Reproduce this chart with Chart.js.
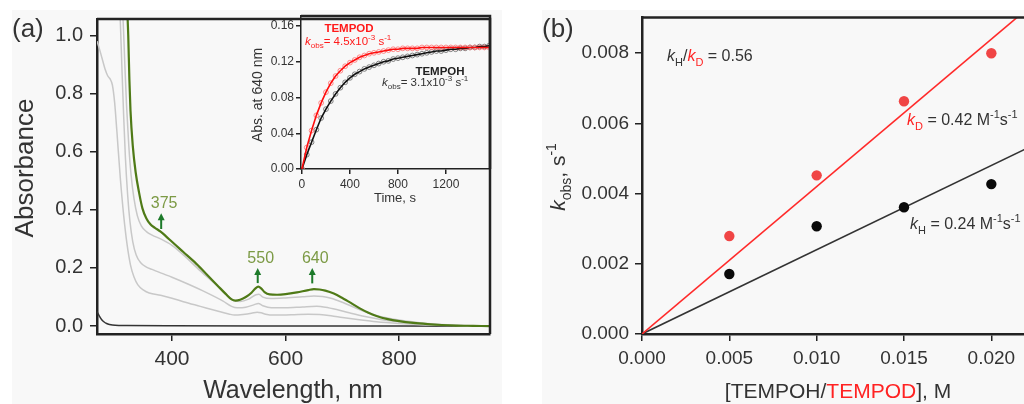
<!DOCTYPE html>
<html>
<head>
<meta charset="utf-8">
<script src="https://cdn.jsdelivr.net/npm/chart.js@4.4.0/dist/chart.umd.min.js"></script>
<style>
  html, body { margin: 0; padding: 0; width: 1024px; height: 404px; overflow: hidden; background: #fff; }
  .bg { position: absolute; background: #f8f8f8; }
  #bgA { left: 12px; top: 10px; width: 490px; height: 394px; }
  #bgB { left: 542px; top: 10px; width: 482px; height: 394px; }
  canvas { position: absolute; }
  #chartA { left: 0; top: 0; }
  #chartIn { left: 240px; top: 0; }
  #chartB { left: 520px; top: 0; }
</style>
</head>
<body>
<div class="bg" id="bgA"></div>
<div class="bg" id="bgB"></div>
<canvas id="chartA" width="510" height="404"></canvas>
<canvas id="chartIn" width="260" height="215"></canvas>
<canvas id="chartB" width="540" height="404"></canvas>

<script>
// ---- (a) UV-vis spectra: [wavelength nm, absorbance] ----
const specBaseline = [[268,0.050],[270,0.042],[273,0.032],[276,0.023],[280,0.015],[285,0.009],[290,0.006],[300,0.003],[320,0.002],[400,0.001],[600,0.0005],[960,0]];
const specT1 = [[268,0.98],[272,0.955],[277,0.92],[282,0.885],[287,0.86],[291,0.85],[295,0.83],[299,0.77],[303,0.67],[309,0.51],[315,0.38],[321,0.28],[327,0.21],[333,0.17],[340,0.142],[350,0.124],[360,0.114],[380,0.106],[400,0.096],[420,0.084],[450,0.068],[480,0.052],[500,0.042],[510,0.038],[525,0.040],[540,0.044],[550,0.048],[557,0.046],[565,0.041],[580,0.038],[610,0.039],[640,0.041],[660,0.040],[680,0.036],[700,0.030],[730,0.022],[760,0.015],[800,0.009],[850,0.004],[900,0.002],[960,0]];
const specT2 = [[303,1.25],[306,1.13],[309,1.05],[312,0.88],[315,0.72],[318,0.58],[322,0.45],[326,0.36],[331,0.29],[337,0.245],[345,0.218],[355,0.203],[365,0.195],[380,0.183],[400,0.168],[430,0.143],[460,0.116],[490,0.086],[505,0.068],[515,0.063],[530,0.065],[545,0.074],[552,0.078],[560,0.070],[575,0.063],[600,0.063],[630,0.066],[655,0.068],[670,0.065],[690,0.057],[710,0.047],[740,0.033],[770,0.022],[800,0.015],[850,0.007],[900,0.002],[960,0]];
const specT3 = [[308,1.25],[311,1.13],[314,1.05],[317,0.90],[320,0.76],[324,0.62],[328,0.52],[333,0.44],[339,0.38],[346,0.345],[355,0.325],[365,0.313],[380,0.300],[400,0.278],[420,0.245],[450,0.190],[480,0.138],[500,0.102],[510,0.086],[520,0.085],[535,0.093],[548,0.108],[553,0.110],[560,0.100],[575,0.095],[600,0.097],[630,0.101],[650,0.104],[665,0.102],[680,0.096],[700,0.082],[730,0.057],[760,0.037],[800,0.021],[850,0.009],[900,0.003],[960,0]];
const specFinal = [[318,1.25],[321,1.10],[323,1.00],[325,0.85],[327,0.74],[331,0.62],[336,0.53],[342,0.46],[348,0.405],[355,0.37],[362,0.35],[370,0.338],[380,0.325],[390,0.308],[400,0.290],[420,0.255],[440,0.220],[460,0.180],[480,0.140],[495,0.110],[505,0.092],[512,0.088],[520,0.091],[530,0.100],[540,0.115],[547,0.130],[552,0.136],[557,0.130],[563,0.117],[572,0.109],[585,0.108],[600,0.110],[620,0.116],[640,0.124],[650,0.127],[660,0.126],[670,0.122],[685,0.112],[700,0.097],[715,0.080],[730,0.062],[745,0.047],[760,0.035],[780,0.024],[800,0.017],[825,0.011],[850,0.007],[875,0.004],[900,0.002],[930,0.001],[960,0]];
const wlTicks = [400, 600, 800];
const wlTickLabels = ['400', '600', '800'];
const absTicks = [0, 0.2, 0.4, 0.6, 0.8, 1.0];
const absTickLabels = ['0.0', '0.2', '0.4', '0.6', '0.8', '1.0'];
// arrows marking the growing bands
const arrowLabels = ['375', '550', '640'];
const arrowWl = [381, 551, 647];
const arrowFrom = [0.334, 0.148, 0.147];
const arrowTo = [0.388, 0.200, 0.200];

// ---- inset: Abs at 640 nm vs time ----
const inTime = [0,40,80,120,160,200,240,280,320,360,400,440,480,520,560,600,640,680,720,760,800,840,880,920,960,1000,1040,1080,1120,1160,1200,1240,1280,1320,1360,1400,1440,1480,1520,1560];
const inTempod = [0.000,0.024,0.043,0.060,0.074,0.086,0.096,0.104,0.110,0.115,0.119,0.122,0.125,0.127,0.129,0.130,0.131,0.132,0.133,0.134,0.134,0.135,0.135,0.135,0.135,0.136,0.136,0.136,0.136,0.136,0.136,0.136,0.136,0.136,0.136,0.136,0.136,0.136,0.136,0.136];
const inTempoh = [0.000,0.016,0.030,0.044,0.057,0.067,0.076,0.084,0.091,0.097,0.102,0.106,0.109,0.112,0.114,0.116,0.118,0.120,0.121,0.123,0.124,0.125,0.126,0.127,0.128,0.129,0.130,0.131,0.132,0.132,0.133,0.134,0.134,0.135,0.135,0.136,0.136,0.137,0.137,0.138];
const timeTicks = [0, 400, 800, 1200];
const timeTickLabels = ['0', '400', '800', '1200'];
const inAbsTicks = [0, 0.04, 0.08, 0.12, 0.16];
const inAbsTickLabels = ['0.00', '0.04', '0.08', '0.12', '0.16'];

// ---- (b) kobs vs [TEMPOH/TEMPOD] ----
const conc = [0.005, 0.010, 0.015, 0.020];
const kobsH = [0.00171, 0.00307, 0.00361, 0.00427];
const kobsD = [0.00279, 0.00452, 0.00663, 0.00800];
const fitConc = [0, 0.0225];
const fitH = [0, 0.0054];
const fitD = [0, 0.00945];
const concTicks = [0, 0.005, 0.010, 0.015, 0.020];
const concTickLabels = ['0.000', '0.005', '0.010', '0.015', '0.020'];
const kTicks = [0, 0.002, 0.004, 0.006, 0.008];
const kTickLabels = ['0.000', '0.002', '0.004', '0.006', '0.008'];

const FONT = 'Arial, "Liberation Sans", Helvetica, sans-serif';
Chart.defaults.font.family = FONT;
Chart.defaults.color = '#333';

// vẽ chữ có chỉ số trên/dưới và chữ nghiêng
function richText(ctx, x, y, parts, size, align) {
    const fontOf = p => (p.i ? 'italic ' : '') + (p.b ? 'bold ' : '') +
        ((p.sub || p.sup) ? Math.round(size * 0.68) : size) + 'px ' + FONT;
    let w = 0;
    parts.forEach(p => { ctx.font = fontOf(p); w += ctx.measureText(p.t).width; });
    let cx = align === 'center' ? x - w / 2 : x;
    ctx.textAlign = 'left';
    ctx.textBaseline = 'alphabetic';
    parts.forEach(p => {
        ctx.font = fontOf(p);
        ctx.fillStyle = p.c || '#333';
        const dy = p.sub ? size * 0.3 : (p.sup ? -size * 0.42 : 0);
        ctx.fillText(p.t, cx, y + dy);
        cx += ctx.measureText(p.t).width;
    });
}

function makeAxis(min, max, tickVals, tickLabels, size, pad, fit, isY, tickLen, bw) {
    return {
        type: 'linear', min: min, max: max,
        afterBuildTicks: s => { s.ticks = tickVals.map(v => ({ value: v })); },
        afterFit: s => { if (isY) s.width = fit; else s.height = fit; },
        grid: { drawOnChartArea: false, drawTicks: true, tickLength: tickLen, color: '#222', lineWidth: 1.5 },
        border: { display: true, color: '#222', width: bw },
        ticks: { autoSkip: false, maxRotation: 0, padding: pad, color: '#333', font: { size: size },
                 callback: (v, i) => tickLabels[i] }
    };
}

function curve(pts, color, w) {
    return { data: pts.map(p => ({ x: p[0], y: p[1] })), showLine: true, borderColor: color,
             borderWidth: w, pointRadius: 0, cubicInterpolationMode: 'monotone', fill: false };
}

const framePlugin = {
    id: 'frame',
    afterDatasetsDraw(chart, args, opts) {
        const { ctx, chartArea: a } = chart;
        ctx.save();
        ctx.strokeStyle = '#222';
        ctx.lineWidth = opts.width || 2;
        ctx.beginPath();
        ctx.moveTo(a.left, a.top);
        ctx.lineTo(a.right, a.top);
        ctx.lineTo(a.right, a.bottom);
        ctx.stroke();
        ctx.restore();
    }
};

const noInteract = { legend: { display: false }, tooltip: { enabled: false } };

// ---------- panel (a) ----------
const textA = {
    id: 'textA',
    afterDraw(chart) {
        const ctx = chart.ctx;
        const xs = chart.scales.x, ys = chart.scales.y;
        ctx.save();
        richText(ctx, 12, 37, [{ t: '(a)' }], 26);
        richText(ctx, 293, 398, [{ t: 'Wavelength, nm' }], 25, 'center');
        ctx.translate(33, 168);
        ctx.rotate(-Math.PI / 2);
        richText(ctx, 0, 0, [{ t: 'Absorbance' }], 26, 'center');
        ctx.restore();

        ctx.save();
        arrowWl.forEach((w, i) => {
            const px = xs.getPixelForValue(w);
            const y0 = ys.getPixelForValue(arrowFrom[i]);
            const y1 = ys.getPixelForValue(arrowTo[i]);
            ctx.strokeStyle = '#1d7a2a';
            ctx.fillStyle = '#1d7a2a';
            ctx.lineWidth = 2;
            ctx.beginPath();
            ctx.moveTo(px, y0);
            ctx.lineTo(px, y1 + 6);
            ctx.stroke();
            ctx.beginPath();
            ctx.moveTo(px, y1);
            ctx.lineTo(px - 3.5, y1 + 7);
            ctx.lineTo(px + 3.5, y1 + 7);
            ctx.closePath();
            ctx.fill();
            richText(ctx, px + 3, y1 - 5, [{ t: arrowLabels[i], c: '#7c9a45' }], 16, 'center');
        });
        ctx.restore();
    }
};

new Chart(document.getElementById('chartA'), {
    type: 'scatter',
    data: {
        datasets: [
            curve(specFinal, '#4f7a17', 2.2),
            curve(specT3, '#c8c8c8', 1.5),
            curve(specT2, '#c8c8c8', 1.5),
            curve(specT1, '#c8c8c8', 1.5),
            curve(specBaseline, '#333333', 1.5)
        ]
    },
    options: {
        responsive: false,
        animation: false,
        layout: { padding: { left: 0, top: 16, right: 20, bottom: 0 } },
        plugins: Object.assign({ frame: { width: 2.5 } }, noInteract),
        scales: {
            x: makeAxis(268, 960, wlTicks, wlTickLabels, 21, 6, 70, false, 7, 2.5),
            y: makeAxis(-0.027, 1.056, absTicks, absTickLabels, 20, 7, 97, true, 7, 2.5)
        }
    },
    plugins: [framePlugin, textA]
});

// ---------- inset ----------
const textIn = {
    id: 'textIn',
    afterDraw(chart) {
        const ctx = chart.ctx;
        ctx.save();
        richText(ctx, 109, 32, [{ t: 'TEMPOD', b: true, c: '#ff1a1a' }], 11.5, 'center');
        richText(ctx, 65, 45, [
            { t: 'k', i: true, c: '#ff1a1a' }, { t: 'obs', sub: true, c: '#ff1a1a' },
            { t: '= 4.5x10', c: '#ff1a1a' }, { t: '-3', sup: true, c: '#ff1a1a' },
            { t: ' s', c: '#ff1a1a' }, { t: '-1', sup: true, c: '#ff1a1a' }], 11.5);
        richText(ctx, 200, 75, [{ t: 'TEMPOH', b: true, c: '#222' }], 11.5, 'center');
        richText(ctx, 142, 86, [
            { t: 'k', i: true }, { t: 'obs', sub: true }, { t: '= 3.1x10' }, { t: '-3', sup: true },
            { t: ' s' }, { t: '-1', sup: true }], 11.5);
        richText(ctx, 155, 202, [{ t: 'Time, s' }], 13, 'center');
        ctx.translate(22, 95);
        ctx.rotate(-Math.PI / 2);
        richText(ctx, 0, 0, [{ t: 'Abs. at 640 nm' }], 14, 'center');
        ctx.restore();
    }
};

function kinetic(vals, color, mark) {
    return inTime.map((t, i) => ({ x: t, y: vals[i] }));
}

new Chart(document.getElementById('chartIn'), {
    type: 'scatter',
    data: {
        datasets: [
            { data: kinetic(inTempod), showLine: true, borderColor: '#ff0d0d', borderWidth: 1.6, pointRadius: 0 },
            { data: kinetic(inTempoh), showLine: true, borderColor: '#111', borderWidth: 1.6, pointRadius: 0 },
            { data: kinetic(inTempod), showLine: false, pointRadius: 2.4, pointBorderWidth: 0.8,
              pointBorderColor: '#ff7070', pointBackgroundColor: 'rgba(0,0,0,0)' },
            { data: kinetic(inTempoh), showLine: false, pointRadius: 2.4, pointBorderWidth: 0.8,
              pointBorderColor: '#666', pointBackgroundColor: 'rgba(0,0,0,0)' }
        ]
    },
    options: {
        responsive: false,
        animation: false,
        layout: { padding: { left: 0, top: 16, right: 10, bottom: 0 } },
        plugins: Object.assign({ frame: { width: 2.5 } }, noInteract),
        scales: {
            x: makeAxis(-8, 1567, timeTicks, timeTickLabels, 12, 3, 46, false, 5, 1.5),
            y: makeAxis(0, 0.1712, inAbsTicks, inAbsTickLabels, 12, 2, 61, true, 5, 1.5)
        }
    },
    plugins: [framePlugin, textIn]
});

// ---------- panel (b) ----------
const textB = {
    id: 'textB',
    afterDraw(chart) {
        const ctx = chart.ctx;
        const red = '#ff2222';
        ctx.save();
        richText(ctx, 22, 37, [{ t: '(b)' }], 26);
        richText(ctx, 147, 61, [
            { t: 'k', i: true }, { t: 'H', sub: true }, { t: '/' },
            { t: 'k', i: true, c: red }, { t: 'D', sub: true, c: red }, { t: ' = 0.56' }], 16);
        richText(ctx, 387, 125, [
            { t: 'k', i: true, c: red }, { t: 'D', sub: true, c: red }, { t: ' = 0.42 M' },
            { t: '-1', sup: true }, { t: 's' }, { t: '-1', sup: true }], 16);
        richText(ctx, 390, 229, [
            { t: 'k', i: true }, { t: 'H', sub: true }, { t: ' = 0.24 M' },
            { t: '-1', sup: true }, { t: 's' }, { t: '-1', sup: true }], 16);
        richText(ctx, 318, 398, [
            { t: '[TEMPOH/' }, { t: 'TEMPOD', c: red }, { t: '], M' }], 21, 'center');
        ctx.translate(45, 177);
        ctx.rotate(-Math.PI / 2);
        richText(ctx, 0, 0, [
            { t: 'k', i: true }, { t: 'obs', sub: true }, { t: ', s' }, { t: '-1', sup: true }], 21, 'center');
        ctx.restore();
    }
};

new Chart(document.getElementById('chartB'), {
    type: 'scatter',
    data: {
        datasets: [
            { data: conc.map((c, i) => ({ x: c, y: kobsD[i] })), pointRadius: 5.2, pointBorderWidth: 0,
              pointBackgroundColor: '#f04545' },
            { data: conc.map((c, i) => ({ x: c, y: kobsH[i] })), pointRadius: 5.2, pointBorderWidth: 0,
              pointBackgroundColor: '#0a0a0a' },
            { data: fitConc.map((c, i) => ({ x: c, y: fitD[i] })), showLine: true, borderColor: '#ff2a2a',
              borderWidth: 1.6, pointRadius: 0 },
            { data: fitConc.map((c, i) => ({ x: c, y: fitH[i] })), showLine: true, borderColor: '#333',
              borderWidth: 1.6, pointRadius: 0 }
        ]
    },
    options: {
        responsive: false,
        animation: false,
        layout: { padding: { left: 0, top: 17, right: 25, bottom: 0 } },
        plugins: Object.assign({ frame: { width: 2.5 } }, noInteract),
        scales: {
            x: makeAxis(0, 0.0225, concTicks, concTickLabels, 19, 6, 70, false, 7, 2.5),
            y: makeAxis(0, 0.00902, kTicks, kTickLabels, 19, 6, 122, true, 7, 2.5)
        }
    },
    plugins: [framePlugin, textB]
});
</script>
</body>
</html>
